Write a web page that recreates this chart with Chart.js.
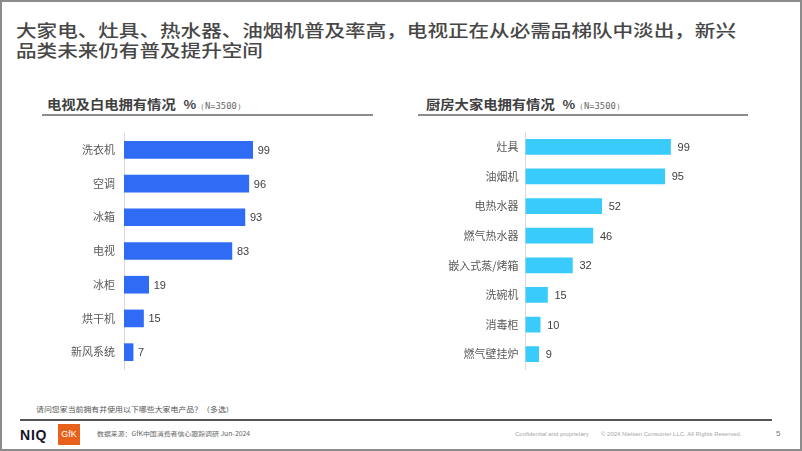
<!DOCTYPE html>
<html>
<head>
<meta charset="utf-8">
<script src="https://cdn.jsdelivr.net/npm/chart.js@4.4.1/dist/chart.umd.min.js"></script>
<style>
  html, body { margin: 0; padding: 0; background: #fff; }
  body { width: 802px; height: 451px; position: relative; overflow: hidden;
         font-family: "Liberation Sans", "Noto Sans CJK SC", sans-serif; }
  .frame { position: absolute; left: 0; top: 0; width: 798px; height: 447px; border: 2px solid #8c8c8c; }
  .t { position: absolute; white-space: nowrap; transform-origin: left center; }
  .title { left: 16px; font-family: "Noto Sans CJK SC", sans-serif; font-size: 17px; font-weight: 500;
           color: #474747; transform: scaleX(1.21); line-height: 20px; }
  .head { font-family: "Noto Sans CJK SC", sans-serif; font-size: 13px; font-weight: 700; color: #404040;
          transform: scaleX(1.1); line-height: 16px; }
  .head span { font-weight: 700; font-size: 12px; margin-left: 7px; }
  .head small { font-weight: 400; font-size: 8px; color: #666; font-family: "DejaVu Sans Mono", monospace; }
  .rule { position: absolute; height: 1.5px; background: #8c8c8c; }
  canvas { position: absolute; }
</style>
</head>
<body>
<div class="frame"></div>

<div class="t title" style="top:20px">大家电、灶具、热水器、油烟机普及率高，电视正在从必需品梯队中淡出，新兴</div>
<div class="t title" style="top:40px">品类未来仍有普及提升空间</div>

<div class="t head" style="left:47px; top:96px">电视及白电拥有情况<span>%</span><small>（N=3500）</small></div>
<div class="rule" style="left:42px; top:114px; width:331px"></div>
<div class="t head" style="left:426px; top:96px">厨房大家电拥有情况<span>%</span><small>（N=3500）</small></div>
<div class="rule" style="left:418px; top:114px; width:330px"></div>

<canvas id="leftChart" width="300" height="246" style="left:30px; top:128px"></canvas>
<canvas id="rightChart" width="340" height="246" style="left:420px; top:127px"></canvas>

<div class="t" style="left:36px; top:404px; font-size:7px; color:#555; transform:scaleX(1.13); font-family:'Noto Sans CJK SC'">请问您家当前拥有并使用以下哪些大家电产品？（多选）</div>
<div class="rule" style="left:20px; top:419px; width:752px; background:#555"></div>
<div class="t" style="left:20px; top:427px; font-size:14px; font-weight:700; color:#14142b; letter-spacing:0.8px">NIQ</div>
<div style="position:absolute; left:58px; top:424px; width:22px; height:21px; background:#e8611a; color:#fff; font-size:9px; line-height:21px; text-align:center">GfK</div>
<div class="t" style="left:97px; top:429px; font-size:6px; color:#666; font-family:'Noto Sans CJK SC'; transform:scaleX(1.15)">数据来源：GfK中国消费者信心跟踪调研 Jun-2024</div>
<div class="t" style="left:515px; top:431px; font-size:6px; color:#a6a6a6">Confidential and proprietary</div>
<div class="t" style="left:601px; top:431px; font-size:6px; color:#a6a6a6">© 2024 Nielsen Consumer LLC. All Rights Reserved.</div>
<div class="t" style="left:776px; top:429px; font-size:8px; color:#777">5</div>

<script>
// 电视及白电
var whiteLabels = ['洗衣机', '空调', '冰箱', '电视', '冰柜', '烘干机', '新风系统'];
var whiteValues = [99, 96, 93, 83, 19, 15, 7];
// 厨房大家电
var kitchenLabels = ['灶具', '油烟机', '电热水器', '燃气热水器', '嵌入式蒸/烤箱', '洗碗机', '消毒柜', '燃气壁挂炉'];
var kitchenValues = [99, 95, 52, 46, 32, 15, 10, 9];

var valueLabels = {
  id: 'valueLabels',
  afterDatasetsDraw: function(chart, args, opts) {
    var ctx = chart.ctx;
    ctx.save();
    ctx.font = '11px "Liberation Sans", Arial, sans-serif';
    ctx.fillStyle = '#404040';
    ctx.textBaseline = 'middle';
    chart.getDatasetMeta(0).data.forEach(function(bar, i) {
      ctx.fillText(chart.data.datasets[0].data[i], bar.x + opts.gap, bar.y + 1);
    });
    ctx.restore();
  }
};

function makeChart(id, labels, values, color, axisWidth, thickness, padRight, padTop, padBottom, tickPad, gap) {
  return new Chart(document.getElementById(id), {
    type: 'bar',
    data: {
      labels: labels,
      datasets: [{ data: values, backgroundColor: color, barThickness: thickness }]
    },
    options: {
      indexAxis: 'y',
      responsive: false,
      animation: false,
      layout: { padding: { top: padTop, bottom: padBottom, right: padRight, left: 0 } },
      plugins: { legend: { display: false }, tooltip: { enabled: false }, valueLabels: { gap: gap } },
      scales: {
        x: { display: false, min: 0, max: 100 },
        y: {
          grid: { display: false, drawTicks: false },
          border: { display: true, color: '#d9d9d9', width: 1 },
          ticks: { color: '#595959', padding: tickPad,
                   font: { family: '"Noto Sans CJK SC", sans-serif', size: 11 } },
          afterFit: function(scale) {
            scale.width = axisWidth;
            scale.paddingTop = 0;
            scale.paddingBottom = 0;
          }
        }
      }
    },
    plugins: [valueLabels]
  });
}

makeChart('leftChart', whiteLabels, whiteValues, '#2f6bf5', 94, 17, 76, 5, 5, 9, 5);
makeChart('rightChart', kitchenLabels, kitchenValues, '#38cbfb', 105.5, 15, 88, 5, 4, 7, 7);
</script>
</body>
</html>
